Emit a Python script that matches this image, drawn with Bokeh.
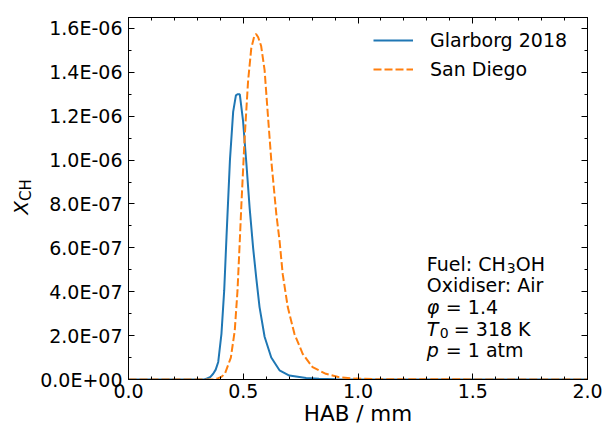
import numpy as np
from bokeh.plotting import figure
from bokeh.models import (Range1d, LinearAxis, FixedTicker, CustomJSTickFormatter,
                          Label, NumeralTickFormatter, Div)
from bokeh.layouts import row
from bokeh.embed import file_html
from bokeh.resources import INLINE

# ---- data ----
glarborg_x = [0.0, 0.33, 0.34, 0.355, 0.369, 0.38, 0.391, 0.405, 0.417, 0.427, 0.442,
              0.456, 0.468, 0.475, 0.485, 0.499, 0.514, 0.528, 0.543, 0.557, 0.571,
              0.593, 0.622, 0.658, 0.701, 0.774, 0.83, 0.9, 2.0]
glarborg_y_e6 = [0, 0, 0.004, 0.01, 0.026, 0.045, 0.08, 0.208, 0.406, 0.65, 1.0,
                 1.22, 1.295, 1.30, 1.30, 1.18, 0.98, 0.78, 0.6, 0.46, 0.33,
                 0.195, 0.10, 0.042, 0.018, 0.007, 0.003, 0.001, 0]
sandiego_x = [0.0, 0.37, 0.391, 0.405, 0.42, 0.446, 0.463, 0.475, 0.485, 0.492, 0.506,
              0.521, 0.535, 0.548, 0.556, 0.565, 0.578, 0.593, 0.607, 0.622, 0.644,
              0.658, 0.672, 0.694, 0.723, 0.759, 0.802, 0.86, 0.918, 0.99, 1.1, 2.0]
sandiego_y_e6 = [0, 0, 0.006, 0.012, 0.026, 0.10, 0.223, 0.406, 0.634, 0.80, 1.10,
                 1.36, 1.51, 1.565, 1.575, 1.56, 1.52, 1.41, 1.21, 1.0, 0.755,
                 0.634, 0.48, 0.33, 0.208, 0.117, 0.056, 0.026, 0.010, 0.004, 0.001, 0]
x_ticks = [0.0, 0.5, 1.0, 1.5, 2.0]
x_minor = [round(0.1 * i, 1) for i in range(21)]
y_ticks = [0, 2e-7, 4e-7, 6e-7, 8e-7, 1.0e-6, 1.2e-6, 1.4e-6, 1.6e-6]
y_minor = [i * 1e-7 for i in range(17)]
series_names = ["Glarborg 2018", "San Diego"]

glarborg_y = np.array(glarborg_y_e6) * 1e-6
sandiego_y = np.array(sandiego_y_e6) * 1e-6

FONT = "DejaVu Sans"
TICK_FS = "19px"
Y_TOP = 1.65e-6
FRAME_H = 362.0  # px height of plotting area

p = figure(width=566, height=429, output_backend="svg", toolbar_location=None,
           x_range=Range1d(0, 2.0), y_range=Range1d(0, Y_TOP),
           min_border_left=88, min_border_right=16, min_border_top=17,
           min_border_bottom=50)
p.xgrid.visible = False
p.ygrid.visible = False
p.outline_line_color = "black"
p.outline_line_width = 1
p.background_fill_color = "white"
p.border_fill_color = "white"

xt = FixedTicker(ticks=x_ticks, minor_ticks=x_minor)
yt = FixedTicker(ticks=y_ticks, minor_ticks=y_minor)
yfmt = CustomJSTickFormatter(code="""
const s = tick.toExponential(1);
const parts = s.split('e');
const sign = parts[1][0];
const d = parts[1].slice(1).padStart(2, '0');
return parts[0] + 'E' + sign + d;
""")

def style_axis(ax, ticker):
    ax.ticker = ticker
    ax.major_tick_in = 6
    ax.major_tick_out = 0
    ax.minor_tick_in = 3
    ax.minor_tick_out = 0
    ax.axis_line_color = "black"
    ax.major_tick_line_color = "black"
    ax.minor_tick_line_color = "black"
    ax.major_label_text_font = FONT
    ax.major_label_text_font_size = TICK_FS
    ax.major_label_text_color = "black"

xa = p.xaxis[0]
style_axis(xa, xt)
xa.formatter = NumeralTickFormatter(format="0.0")
xa.major_label_standoff = 4
xa.axis_label = "HAB / mm"
xa.axis_label_text_font = FONT
xa.axis_label_text_font_size = "21.5px"
xa.axis_label_text_font_style = "normal"
xa.axis_label_text_color = "black"
xa.axis_label_standoff = 0

ya = p.yaxis[0]
style_axis(ya, yt)
ya.formatter = yfmt
ya.major_label_standoff = 6

for loc, tk in (("above", xt), ("right", yt)):
    ax = LinearAxis()
    style_axis(ax, tk)
    ax.major_label_text_color = None
    ax.major_label_text_font_size = "1px"
    ax.major_label_standoff = 0
    p.add_layout(ax, loc)

p.line(glarborg_x, glarborg_y, line_color="#1f77b4", line_width=2,
       legend_label=series_names[0])
p.line(sandiego_x, sandiego_y, line_color="#ff7f0e", line_width=2,
       line_dash="8 3", legend_label=series_names[1])

lg = p.legend[0]
lg.location = (245, 299)
lg.border_line_color = None
lg.background_fill_alpha = 0
lg.padding = 0
lg.margin = 0
lg.glyph_width = 40
lg.glyph_height = 20
lg.label_height = 20
lg.spacing = 7
lg.label_standoff = 17
lg.label_text_font = FONT
lg.label_text_font_size = TICK_FS
lg.label_text_color = "black"

# info block
def ydat(py):
    return (379 - py) / FRAME_H * Y_TOP

def lab(xd, py, txt, xoff=0, italic=False, size=TICK_FS):
    p.add_layout(Label(x=xd, y=ydat(py), x_offset=xoff, text=txt, text_font=FONT,
                       text_font_size=size, text_baseline="middle",
                       text_align="left", text_color="black",
                       text_font_style="italic" if italic else "normal"))

x0 = 1.3
lab(x0, 263, "Fuel: CH")
lab(x0, 267, "3", xoff=80, size="14px")
lab(x0, 263, "OH", xoff=89)
lab(x0, 284, "Oxidiser: Air")
lab(x0, 306, "\u03c6", italic=True)
lab(x0, 306, "= 1.4", xoff=19)
lab(x0, 328, "T", italic=True)
lab(x0, 332, "0", xoff=13, size="14px")
lab(x0, 328, "= 318 K", xoff=27)
lab(x0, 349, "p", italic=True)
lab(x0, 349, "= 1 atm", xoff=19)

# y axis title X_CH (rotated), drawn as real text beside the plot
ylab = Div(width=37, height=429, margin=0, text=(
    '<div style="position:relative;width:37px;height:429px;">'
    '<div style="position:absolute;left:21px;top:197px;'
    'transform:translate(-50%,-50%) rotate(-90deg);white-space:nowrap;'
    "font-family:'DejaVu Sans';font-size:20px;line-height:1;color:#000;\">"
    '<i>X</i><span style="font-size:15px;position:relative;top:3px;">CH</span>'
    '</div></div>'))

layout = row(ylab, p, spacing=0)
open("out.html", "w").write(file_html(layout, INLINE))
